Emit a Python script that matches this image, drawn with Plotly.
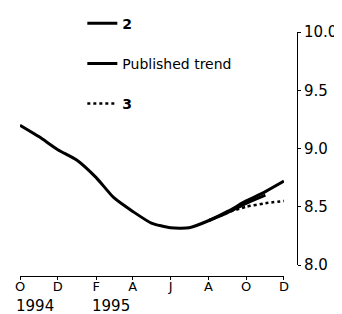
import plotly.graph_objects as go

months = ["1994-10-01", "1994-11-01", "1994-12-01", "1995-01-01", "1995-02-01",
          "1995-03-01", "1995-04-01", "1995-05-01", "1995-06-01", "1995-07-01",
          "1995-08-01", "1995-09-01", "1995-10-01", "1995-11-01", "1995-12-01"]
published = [9.20, 9.10, 8.99, 8.90, 8.75, 8.58, 8.46, 8.36, 8.32, 8.32,
             8.38, 8.46, 8.55, 8.63, 8.72]

months_2 = ["1995-08-01", "1995-09-01", "1995-10-01", "1995-11-01"]
series_2 = [8.38, 8.45, 8.53, 8.60]

months_3 = ["1995-08-01", "1995-09-01", "1995-10-01", "1995-11-01", "1995-12-01"]
series_3 = [8.38, 8.45, 8.50, 8.53, 8.55]

tick_vals = ["1994-10-01", "1994-12-01", "1995-02-01", "1995-04-01",
             "1995-06-01", "1995-08-01", "1995-10-01", "1995-12-01"]
tick_text = ["O", "D", "F", "A", "J", "A", "O", "D"]
year_pos = ["1994-10-01", "1995-02-01"]
year_text = ["1994", "1995"]

FONT = "DejaVu Sans"

fig = go.Figure()
fig.add_trace(go.Scatter(x=months_2, y=series_2, mode="lines", name="<b>2</b>",
                         line=dict(color="black", width=3, shape="spline", smoothing=0.6),
                         legendgroup="a"))
fig.add_trace(go.Scatter(x=months, y=published, mode="lines", name="Published trend",
                         line=dict(color="black", width=3, shape="spline", smoothing=0.6),
                         legendgroup="b"))
fig.add_trace(go.Scatter(x=months_3, y=series_3, mode="lines", name="<b>3</b>",
                         line=dict(color="black", width=2.5, dash="dot",
                                   shape="spline", smoothing=0.6),
                         legendgroup="c"))

for xv, t in zip(year_pos, year_text):
    fig.add_annotation(x=xv, y=0, xref="x", yref="paper", text=t, showarrow=False,
                       xanchor="left", yanchor="top", yshift=-19, xshift=-6,
                       font=dict(family=FONT, size=15, color="black"))

# page body has an 8px default margin, so the figure is sized/offset to compensate
fig.update_layout(
    width=334, height=306,
    margin=dict(l=12, r=45, t=24, b=38, autoexpand=False),
    paper_bgcolor="white", plot_bgcolor="white",
    font=dict(family=FONT, size=12, color="black"),
    showlegend=True,
    legend=dict(x=0.225, y=1.1, xanchor="left", yanchor="top",
                tracegroupgap=19, bgcolor="rgba(0,0,0,0)",
                font=dict(family=FONT, size=14, color="black")),
    xaxis=dict(type="date", range=["1994-10-01", "1995-12-01"],
               domain=[0, 0.953],
               tickvals=tick_vals, ticktext=tick_text,
               showline=True, linecolor="black", linewidth=1,
               ticks="outside", ticklen=3, tickcolor="black",
               showgrid=False, zeroline=False, anchor="free", position=0,
               automargin=False, ticklabelstandoff=-5,
               tickfont=dict(family=FONT, size=13)),
    yaxis=dict(range=[8.0, 10.0], domain=[0.045, 1], side="right",
               anchor="free", position=1.0,
               tickvals=[8.0, 8.5, 9.0, 9.5, 10.0],
               ticktext=["8.0", "8.5", "9.0", "9.5", "10.0"],
               showline=True, linecolor="black", linewidth=1,
               ticks="outside", ticklen=3, tickcolor="black",
               showgrid=False, zeroline=False, automargin=False,
               tickfont=dict(family=FONT, size=15)),
)

fig.write_html("out.html")
